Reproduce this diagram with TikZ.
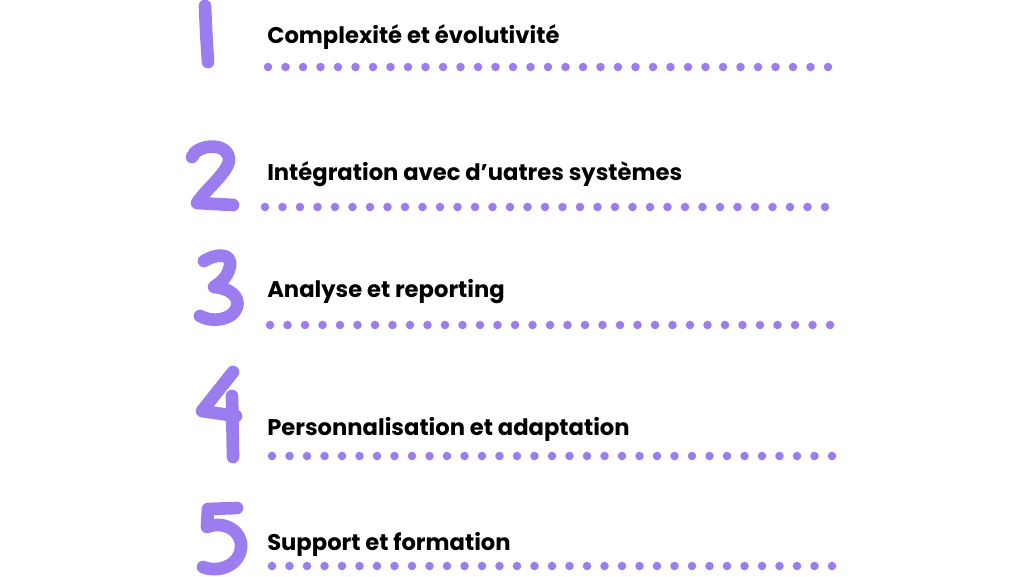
\documentclass[tikz,border=0pt]{standalone}
\usepackage{fontspec}
\setmainfont{Poppins}
\definecolor{purp}{RGB}{155,125,240}
\begin{document}
\begin{tikzpicture}[x=0.75pt,y=-0.75pt,
  digit/.style={draw=purp,line width=9.5pt,line cap=round,line join=round},
  label/.style={anchor=base west,inner sep=0pt,font=\fontsize{17}{20}\selectfont\bfseries,text=black},
  dot/.style={fill=purp}]
\fill[white] (0,0) rectangle (1024,576);
\useasboundingbox (0,0) rectangle (1024,576);
% digits
\draw[digit] (205,6) .. controls (206,30) .. (208,62);
\draw[digit] (192,157) .. controls (196,145) and (226,141) .. (229,158) .. controls (231,170) and (205,190) .. (197,203) -- (233,205);
\draw[digit] (204,261) .. controls (215,254) and (232,252) .. (230,266) .. controls (228,277) and (220,283) .. (214,287) .. controls (230,288) and (240,297) .. (237,307) .. controls (233,320) and (212,323) .. (200,316);
\draw[digit] (233,372) -- (202,411) -- (236,416);
\draw[digit] (232,396) -- (233,457);
\draw[digit] (237,508) -- (208,509) -- (207,527) .. controls (225,520) and (243,532) .. (241,548) .. controls (239,566) and (218,573) .. (203,567);
% labels
\node[label] (t1) at (267,43) {Complexité et évolutivité};
\node[label] (t2) at (267,180) {Intégration avec d’uatres systèmes};
\node[label] (t3) at (267,297) {Analyse et reporting};
\node[label] (t4) at (267,435) {Personnalisation et adaptation};
\node[label] (t5) at (267,550) {Support et formation};
% dotted rules
\foreach \y/\x in {67/268,207/265,325/270,456/272,566/272}
  \foreach \i in {0,...,32}
    \fill[dot] ({\x+17.5*\i},\y) circle[radius=3.2pt];
\end{tikzpicture}
\end{document}
